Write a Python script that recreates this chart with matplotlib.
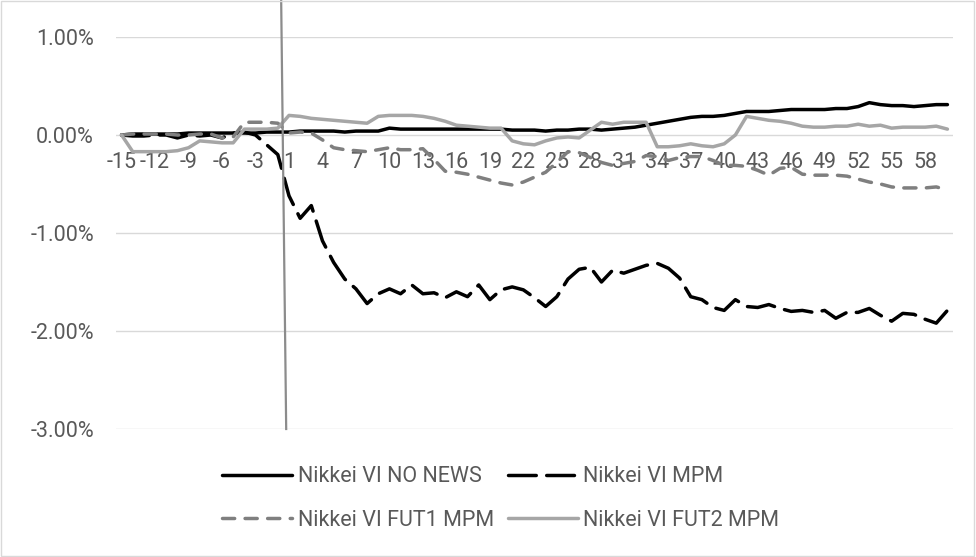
import numpy as np
import matplotlib.pyplot as plt
from matplotlib.ticker import FuncFormatter
from matplotlib.patches import Rectangle

plt.rcParams['font.family'] = ['Roboto', 'DejaVu Sans']

# minutes around the announcement (no 0)
categories = list(range(-15, 0)) + list(range(1, 61))

# values in percent
no_news = [0.00, 0.01, 0.01, 0.01, 0.01, 0.01, 0.02, 0.02, 0.02, 0.02, 0.02, 0.02, 0.02, 0.03, 0.03,
           0.03, 0.04, 0.04, 0.04, 0.04, 0.03, 0.04, 0.04, 0.04, 0.07, 0.06, 0.06, 0.06, 0.06, 0.06,
           0.06, 0.06, 0.06, 0.06, 0.06, 0.05, 0.05, 0.05, 0.04, 0.05, 0.05, 0.06, 0.06, 0.05, 0.06,
           0.07, 0.08, 0.10, 0.12, 0.14, 0.16, 0.18, 0.19, 0.19, 0.20, 0.22, 0.24, 0.24, 0.24, 0.25,
           0.26, 0.26, 0.26, 0.26, 0.27, 0.27, 0.29, 0.33, 0.31, 0.30, 0.30, 0.29, 0.30, 0.31, 0.31]

mpm = [0.00, -0.01, -0.01, 0.00, 0.00, -0.03, 0.00, -0.01, 0.00, -0.03, 0.02, 0.03, 0.00, -0.10, -0.20,
       -0.62, -0.85, -0.72, -1.08, -1.30, -1.47, -1.57, -1.72, -1.62, -1.57, -1.62, -1.53, -1.62, -1.61, -1.66,
       -1.60, -1.65, -1.53, -1.68, -1.58, -1.55, -1.58, -1.66, -1.75, -1.65, -1.47, -1.37, -1.35, -1.50, -1.38,
       -1.41, -1.37, -1.33, -1.31, -1.36, -1.46, -1.65, -1.68, -1.76, -1.79, -1.68, -1.75, -1.76, -1.73, -1.77,
       -1.80, -1.79, -1.81, -1.79, -1.87, -1.81, -1.81, -1.77, -1.84, -1.90, -1.82, -1.83, -1.88, -1.92, -1.79]

fut1_mpm = [0.00, 0.01, 0.01, 0.01, 0.01, 0.00, 0.00, 0.01, 0.01, -0.03, -0.02, 0.13, 0.13, 0.13, 0.12,
            0.02, 0.03, 0.02, -0.05, -0.13, -0.15, -0.16, -0.17, -0.15, -0.13, -0.15, -0.15, -0.14, -0.25, -0.37,
            -0.38, -0.40, -0.43, -0.46, -0.49, -0.51, -0.48, -0.43, -0.38, -0.28, -0.17, -0.18, -0.23, -0.28, -0.31,
            -0.29, -0.27, -0.21, -0.22, -0.26, -0.23, -0.22, -0.22, -0.26, -0.31, -0.31, -0.32, -0.36, -0.41, -0.34,
            -0.33, -0.40, -0.41, -0.41, -0.41, -0.42, -0.45, -0.48, -0.50, -0.53, -0.54, -0.54, -0.54, -0.53, -0.56]

fut2_mpm = [0.00, -0.17, -0.17, -0.17, -0.17, -0.16, -0.13, -0.06, -0.07, -0.08, -0.08, 0.06, 0.06, 0.06, 0.07,
            0.20, 0.19, 0.17, 0.16, 0.15, 0.14, 0.13, 0.12, 0.19, 0.20, 0.20, 0.20, 0.19, 0.17, 0.14,
            0.10, 0.09, 0.08, 0.07, 0.07, -0.06, -0.09, -0.10, -0.06, -0.03, -0.02, -0.03, 0.05, 0.13, 0.11,
            0.13, 0.13, 0.13, -0.12, -0.12, -0.11, -0.09, -0.11, -0.12, -0.09, 0.00, 0.19, 0.17, 0.15, 0.14,
            0.12, 0.09, 0.08, 0.08, 0.09, 0.09, 0.11, 0.09, 0.10, 0.07, 0.08, 0.08, 0.08, 0.09, 0.06]

# hand-drawn marker line at the announcement (category position, percent)
event_x = [14.3, 14.75]
event_y = [1.38, -3.0]

x = np.arange(len(categories))

fig = plt.figure(figsize=(9.76, 5.57), dpi=100)
ax = fig.add_axes([116 / 976, 1 - 429 / 557, (953 - 116) / 976, (429 - 37) / 557])

l1, = ax.plot(x, np.array(no_news) / 100, color='black', lw=2.5, label='Nikkei VI NO NEWS',
              solid_capstyle='round')
l2, = ax.plot(x, np.array(mpm) / 100, color='black', lw=2.5, linestyle=(0, (8, 3)),
              dash_capstyle='round', label='Nikkei VI MPM')
l3, = ax.plot(x, np.array(fut1_mpm) / 100, color='#7f7f7f', lw=2.5, linestyle=(0, (3.5, 3)),
              dash_capstyle='round', label='Nikkei VI FUT1 MPM')
l4, = ax.plot(x, np.array(fut2_mpm) / 100, color='#a6a6a6', lw=2.5, label='Nikkei VI FUT2 MPM',
              solid_capstyle='round')

ax.plot(event_x, np.array(event_y) / 100, color='#8c8c8c', lw=1.6, clip_on=False)

ax.set_xlim(-0.5, len(categories) - 0.5)
ax.set_ylim(-0.03, 0.01)
ax.set_yticks([-0.03, -0.02, -0.01, 0.0, 0.01])
ax.yaxis.set_major_formatter(FuncFormatter(lambda v, p: '{:.2f}%'.format(v * 100)))
ax.set_xticks(x[::3])
ax.set_xticklabels([str(c) for c in categories[::3]])

for s in ax.spines.values():
    s.set_visible(False)
ax.spines['bottom'].set_position(('data', 0))
ax.yaxis.grid(True, color='#d9d9d9', lw=1)
ax.set_axisbelow(True)
ax.tick_params(length=0, labelsize=15.5, labelcolor='#595959')
ax.tick_params(axis='y', pad=16)
ax.tick_params(axis='x', pad=12)

# legend fills column by column, so order for two rows
handles = [l1, l3, l2, l4]
fig.legend(handles, [h.get_label() for h in handles], loc='center',
           bbox_to_anchor=(0.513, 0.105), ncol=2, frameon=False,
           fontsize=15.5, handlelength=3.25, handletextpad=0.25, columnspacing=0.65,
           labelspacing=1.05, labelcolor='#595959')

fig.patches.append(Rectangle((0.001, 0.002), 0.997, 0.996, transform=fig.transFigure,
                             fill=False, edgecolor='#d9d9d9', lw=1))

fig.savefig('out.png', dpi=100)
